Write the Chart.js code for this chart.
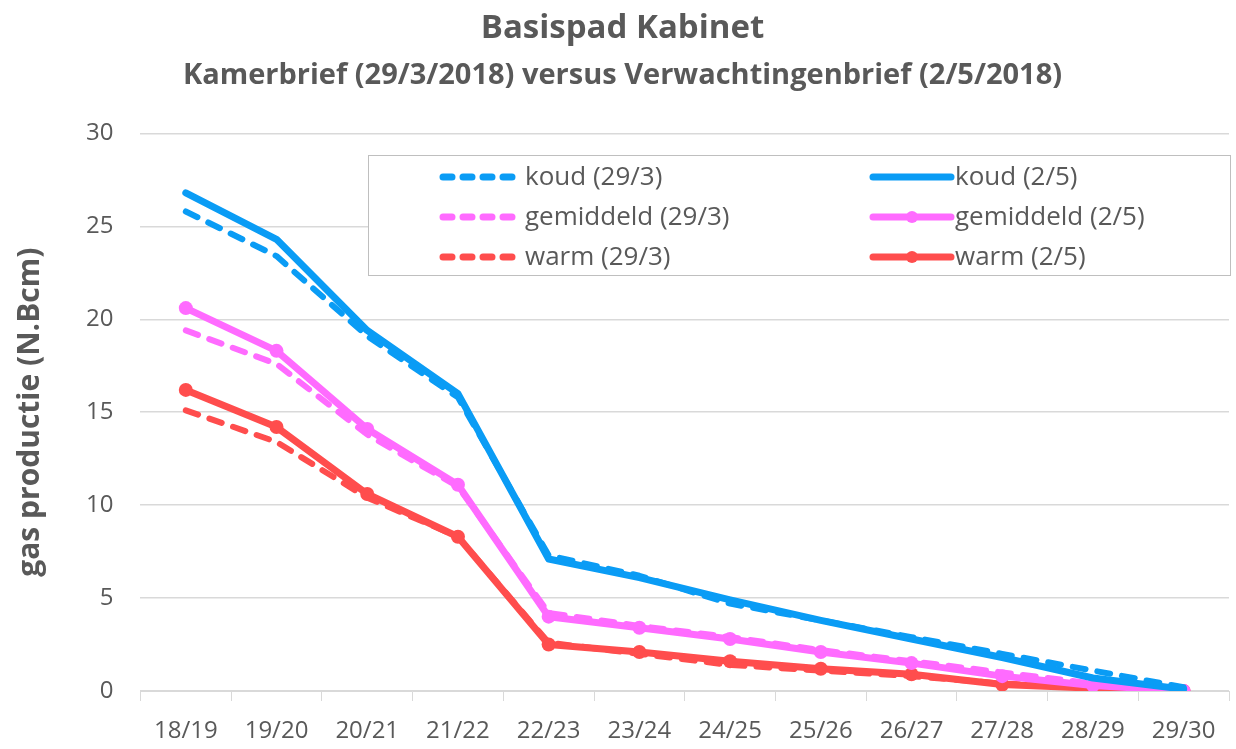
<!DOCTYPE html>
<html>
<head>
<meta charset="utf-8">
<script src="https://cdn.jsdelivr.net/npm/chart.js@4.4.1/dist/chart.umd.min.js"></script>
<style>
  html, body { margin: 0; padding: 0; background: #fff; }
  #wrap { width: 1236px; height: 749px; }
</style>
</head>
<body>
<div id="wrap"><canvas id="gasChart"></canvas></div>
<script>
const years = ['18/19', '19/20', '20/21', '21/22', '22/23', '23/24', '24/25', '25/26', '26/27', '27/28', '28/29', '29/30'];

const koudMaart = [25.8, 23.4, 19.1, 15.8, 7.3, 6.2, 4.7, 3.8, 2.9, 2.0, 1.1, 0.2];
const koudMei = [26.8, 24.3, 19.4, 16.0, 7.1, 6.1, 4.9, 3.8, 2.8, 1.8, 0.7, 0.1];
const gemMaart = [19.4, 17.6, 13.8, 11.0, 4.2, 3.5, 2.9, 2.2, 1.6, 1.0, 0.4, 0.0];
const gemMei = [20.6, 18.3, 14.1, 11.1, 4.0, 3.4, 2.8, 2.1, 1.5, 0.8, 0.3, 0.0];
const warmMaart = [15.1, 13.4, 10.4, 8.3, 2.6, 2.0, 1.4, 1.1, 0.8, 0.4, 0.2, 0.0];
const warmMei = [16.2, 14.2, 10.6, 8.3, 2.5, 2.1, 1.6, 1.2, 0.9, 0.35, 0.15, 0.0];

const blauw = '#0a9cf5';
const roze = '#ff6bff';
const rood = '#ff4d4d';
const grijs = '#595959';
const fontFam = '"Open Sans", Lato, sans-serif';

function lijn(label, data, kleur, gestippeld, punten) {
  return {
    label,
    data,
    borderColor: kleur,
    backgroundColor: kleur,
    borderWidth: gestippeld ? 6 : 7,
    borderDash: gestippeld ? [13, 12] : [],
    borderCapStyle: 'round',
    borderJoinStyle: 'round',
    pointRadius: punten ? 7 : 0,
    pointHoverRadius: punten ? 7 : 0,
    pointBorderWidth: 0,
    tension: 0,
    fill: false
  };
}

// legenda met rand, twee kolommen
const legendaKader = {
  id: 'legendaKader',
  afterDraw(chart) {
    const ctx = chart.ctx;
    const box = { x: 368, y: 155, w: 862, h: 120 };
    ctx.save();
    ctx.fillStyle = '#fff';
    ctx.fillRect(box.x, box.y, box.w, box.h);
    ctx.strokeStyle = '#bfbfbf';
    ctx.lineWidth = 1;
    ctx.strokeRect(box.x + 0.5, box.y + 0.5, box.w, box.h);
    ctx.font = '26px ' + fontFam;
    ctx.textBaseline = 'middle';
    chart.data.datasets.forEach((ds, i) => {
      const col = i % 2;
      const row = Math.floor(i / 2);
      const x0 = col === 0 ? 443 : 873;
      const x1 = x0 + 78;
      const y = 177 + row * 40;
      ctx.strokeStyle = ds.borderColor;
      ctx.lineWidth = 7;
      ctx.lineCap = 'round';
      ctx.setLineDash(ds.borderDash.length ? [9, 11] : []);
      ctx.beginPath();
      ctx.moveTo(x0, y);
      ctx.lineTo(x1, y);
      ctx.stroke();
      ctx.setLineDash([]);
      if (ds.pointRadius > 0) {
        ctx.fillStyle = ds.borderColor;
        ctx.beginPath();
        ctx.arc((x0 + x1) / 2, y, 6, 0, Math.PI * 2);
        ctx.fill();
      }
      ctx.fillStyle = grijs;
      ctx.fillText(ds.label, x1 + 4, y + 1);
    });
    ctx.restore();
  }
};

new Chart(document.getElementById('gasChart'), {
  type: 'line',
  data: {
    labels: years,
    datasets: [
      lijn('koud (29/3)', koudMaart, blauw, true, false),
      lijn('koud (2/5)', koudMei, blauw, false, false),
      lijn('gemiddeld (29/3)', gemMaart, roze, true, false),
      lijn('gemiddeld (2/5)', gemMei, roze, false, true),
      lijn('warm (29/3)', warmMaart, rood, true, false),
      lijn('warm (2/5)', warmMei, rood, false, true)
    ]
  },
  options: {
    responsive: true,
    maintainAspectRatio: false,
    animation: false,
    layout: { padding: { left: 12, right: 3, top: 0, bottom: 2 } },
    plugins: {
      legend: { display: false },
      tooltip: { enabled: false },
      title: {
        display: true,
        text: 'Basispad Kabinet',
        color: grijs,
        font: { family: fontFam, size: 33, weight: 'bold' },
        padding: { top: 9, bottom: 10 }
      },
      subtitle: {
        display: true,
        text: 'Kamerbrief (29/3/2018) versus Verwachtingenbrief (2/5/2018)',
        color: grijs,
        font: { family: fontFam, size: 29, weight: 'bold' },
        padding: { top: 0, bottom: 40 }
      }
    },
    scales: {
      x: {
        offset: true,
        afterFit(scale) { scale.height = 56; },
        grid: {
          offset: true,
          drawOnChartArea: false,
          drawTicks: true,
          tickLength: 10,
          color: '#d9d9d9'
        },
        border: { color: '#d9d9d9', width: 1 },
        ticks: {
          color: grijs,
          font: { family: fontFam, size: 24 },
          padding: 16,
          maxRotation: 0,
          autoSkip: false
        }
      },
      y: {
        min: 0,
        max: 30,
        ticks: {
          stepSize: 5,
          color: grijs,
          font: { family: fontFam, size: 24 },
          padding: 27
        },
        grid: { color: '#d9d9d9', drawTicks: false, lineWidth: 1.5 },
        border: { display: false },
        title: {
          display: true,
          text: 'gas productie (N.Bcm)',
          color: grijs,
          font: { family: fontFam, size: 30, weight: 'bold' },
          padding: { top: 0, bottom: 11 }
        }
      }
    }
  },
  plugins: [legendaKader]
});
</script>
</body>
</html>
